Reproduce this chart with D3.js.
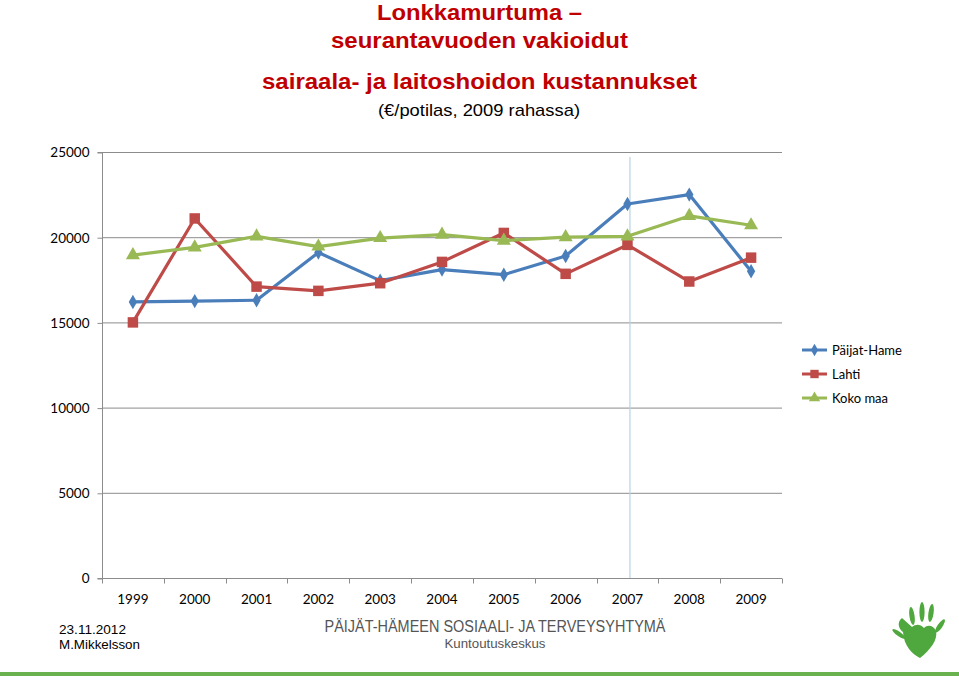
<!DOCTYPE html>
<html><head><meta charset="utf-8">
<script src="https://cdn.jsdelivr.net/npm/d3@7"></script>
<style>body{margin:0;background:#fff}svg{display:block}</style>
</head><body>
<script>
const years = ["1999","2000","2001","2002","2003","2004","2005","2006","2007","2008","2009"];
const paijatHame = [16200,16250,16300,19100,17450,18100,17800,18900,21950,22500,18000];
const lahti = [15000,21100,17100,16850,17300,18550,20250,17850,19550,17400,18800];
const kokoMaa = [18950,19400,20050,19450,19950,20150,19800,20000,20050,21250,20700];
const yTicks = [0,5000,10000,15000,20000,25000];
const seriesNames = ["Päijat-Hame","Lahti","Koko maa"];

const W=959,H=676;
const svg=d3.select("body").append("svg").attr("width",W).attr("height",H);
const x=d3.scaleBand().domain(years).range([102,782]);
const y=d3.scaleLinear().domain([0,25000]).range([578,152]);
const tickFont="Lato, 'Open Sans', sans-serif";

// titles
const red="#c00000";
function t(txt,cx,cy,size,weight,color,len,family){
  const e=svg.append("text").attr("x",cx).attr("y",cy).attr("text-anchor","middle")
   .attr("font-family",family||"Liberation Sans, Arial, sans-serif").attr("font-size",size)
   .attr("font-weight",weight).attr("fill",color).text(txt);
  if(len) e.attr("textLength",len).attr("lengthAdjust","spacingAndGlyphs");
  return e;
}
t("Lonkkamurtuma –",479.5,20,22,"bold",red,205);
t("seurantavuoden vakioidut",479.5,48,22,"bold",red,297);
t("sairaala- ja laitoshoidon kustannukset",479.5,89,22,"bold",red,435);
t("(€/potilas, 2009 rahassa)",479,116,17,"normal","#000",202);

// gridlines
const g=svg.append("g");
g.selectAll("line.grid").data(yTicks.filter(d=>d>0)).join("line")
 .attr("x1",102).attr("x2",782).attr("y1",d=>y(d)+0.5).attr("y2",d=>y(d)+0.5)
 .attr("stroke","#8c8c8c").attr("stroke-width",1);

// y axis
const yAxis=svg.append("g").attr("transform","translate(102.5,0.5)")
 .call(d3.axisLeft(y).tickValues(yTicks).tickSize(5).tickFormat(d3.format("d")));
yAxis.select(".domain").attr("stroke","#8c8c8c").attr("d","M-5,"+y(25000)+"H0V"+y(0)+"H-5");
yAxis.selectAll(".tick line").attr("stroke","#8c8c8c");
yAxis.selectAll(".tick text").attr("font-family",tickFont).attr("font-size",13.5).attr("fill","#000").attr("x",-13);

// x axis
const xAxis=svg.append("g").attr("transform","translate(0,578.5)")
 .call(d3.axisBottom(x).tickSize(0).tickPadding(16));
xAxis.select(".domain").attr("stroke","#8c8c8c").attr("d","M102,0H782");
xAxis.selectAll(".tick text").attr("font-family",tickFont).attr("font-size",13.5).attr("fill","#000");
const bounds=years.map(d=>x(d)).concat([x.range()[1]]);
xAxis.selectAll("line.bt").data(bounds).join("line").attr("class","bt")
 .attr("x1",d=>Math.round(d)+0.5).attr("x2",d=>Math.round(d)+0.5).attr("y1",0).attr("y2",5).attr("stroke","#8c8c8c");

// vertical cursor line
svg.append("line").attr("x1",x("2007")+x.bandwidth()/2+2.5).attr("x2",x("2007")+x.bandwidth()/2+2.5)
 .attr("y1",157).attr("y2",578).attr("stroke","#b9d3df").attr("stroke-width",1.2);

const colors=["#4a7ebb","#be4b48","#98b954"];
const data=[paijatHame,lahti,kokoMaa];
const cx=i=>x(years[i])+x.bandwidth()/2;
const line=d3.line().x((d,i)=>cx(i)).y(d=>y(d));
const symbols=[d3.symbol().type(d3.symbolDiamond).size(60),
               d3.symbol().type(d3.symbolSquare).size(110),
               d3.symbol().type(d3.symbolTriangle).size(85)];
data.forEach((s,k)=>{
  svg.append("path").datum(s).attr("d",line).attr("fill","none").attr("stroke",colors[k])
    .attr("stroke-width",3.2).attr("stroke-linejoin","round");
});
data.forEach((s,k)=>{
  svg.append("g").selectAll("path").data(s).join("path")
   .attr("transform",(d,i)=>`translate(${cx(i)},${y(d)})`)
   .attr("d",symbols[k]()).attr("fill",colors[k]);
});

// legend
const lg=svg.append("g");
seriesNames.forEach((n,k)=>{
  const ly=350+k*24;
  lg.append("line").attr("x1",802).attr("x2",827).attr("y1",ly).attr("y2",ly).attr("stroke",colors[k]).attr("stroke-width",3);
  const ss=[d3.symbol().type(d3.symbolDiamond).size(45),d3.symbol().type(d3.symbolSquare).size(70),d3.symbol().type(d3.symbolTriangle).size(55)];
  lg.append("path").attr("transform",`translate(814.5,${ly})`).attr("d",ss[k]()).attr("fill",colors[k]);
  lg.append("text").attr("x",832).attr("y",ly+4.5).attr("font-family",tickFont).attr("font-size",13).text(n);
});

// footer
const ff="Liberation Sans Narrow, Liberation Sans, Arial, sans-serif";
svg.append("text").attr("x",59).attr("y",634).attr("font-family",ff).attr("font-size",13.5).attr("textLength",67).attr("lengthAdjust","spacingAndGlyphs").text("23.11.2012");
svg.append("text").attr("x",59).attr("y",649).attr("font-family",ff).attr("font-size",13.5).attr("textLength",81).attr("lengthAdjust","spacingAndGlyphs").text("M.Mikkelsson");
t("PÄIJÄT-HÄMEEN SOSIAALI- JA TERVEYSYHTYMÄ",495,632,16,"normal","#555",341,ff);
t("Kuntoutuskeskus",495,648,13,"normal","#555",101,ff);
svg.append("rect").attr("x",0).attr("y",672).attr("width",W).attr("height",4).attr("fill","#6ab150");

// logo (hand)
const lgo=svg.append("g").attr("fill","#4fa83d");
lgo.append("path").attr("d","M903,632 C898,628 897,622 902,618 L912,627 C916,624 920,624 924,628 C928,624 934,626 936,631 C938,640 930,650 920,658 C912,654 904,646 903,632 Z");
[[912,616,2.6,9,-8],[922,612,2.6,10,0],[931,613,2.6,9,8],[940,626,2.4,8,35],[899,634,2.2,8,-55]].forEach(f=>{
  lgo.append("ellipse").attr("cx",f[0]).attr("cy",f[1]).attr("rx",f[2]).attr("ry",f[3]).attr("transform",`rotate(${f[4]},${f[0]},${f[1]})`);
});
</script>
</body></html>
